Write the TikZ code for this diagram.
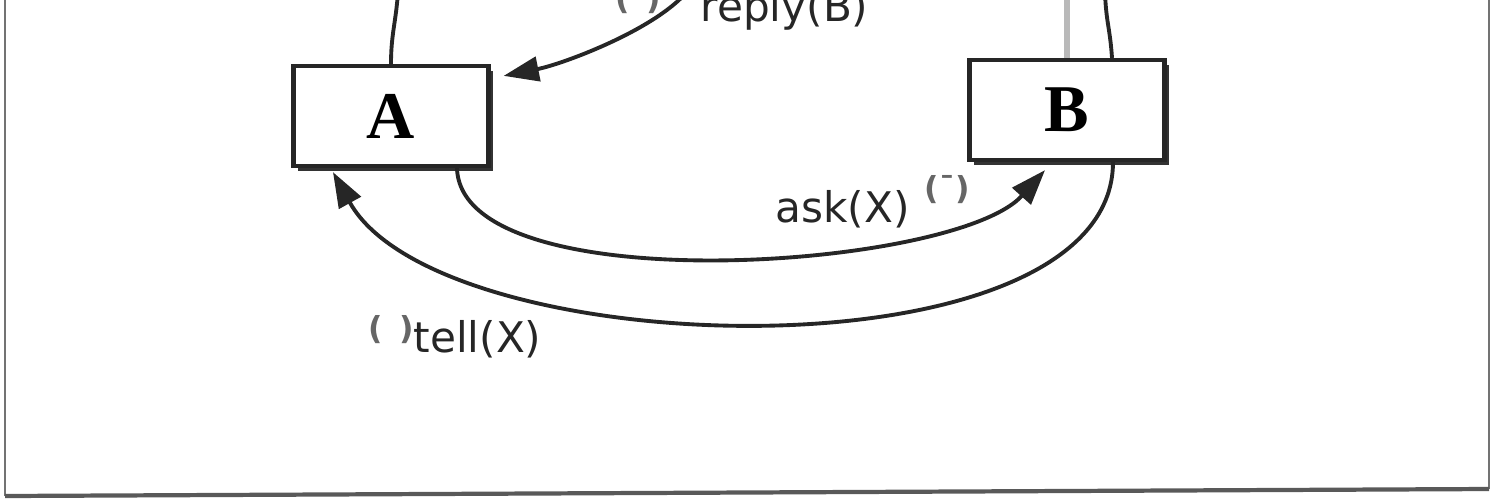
\documentclass[tikz,border=0pt]{standalone}
\usepackage{fontspec}
\setmainfont{Liberation Serif}
\newfontfamily\lblfont{DejaVu Sans}
\usepackage{xcolor}
\usetikzlibrary{arrows.meta,shadows,calc}
\newcommand{\pmark}[2]{\raisebox{#1}{\textcolor{black!60}{\fontsize{9}{9}\selectfont\bfseries(\makebox[1.6mm]{#2})}}}

\begin{document}
\begin{tikzpicture}[x=0.01cm,y=-0.01cm,
  agent/.style={draw=black!85,line width=1.2pt,fill=white,minimum width=1.95cm,minimum height=1cm,inner sep=0pt,
    font=\fontsize{19}{21}\selectfont\bfseries,
    drop shadow={shadow xshift=1.3pt,shadow yshift=-1.3pt,fill=black!80,opacity=1}},
  arr/.style={-{Triangle[length=10pt,width=7pt]},line width=1.1pt,draw=black!85},
  wire/.style={line width=1.1pt,draw=black!85},
  lbl/.style={font=\lblfont\fontsize{12}{14}\selectfont,text=black!85,inner sep=0pt}]
\useasboundingbox (0,0) rectangle (1502,502);
\clip (0,0) rectangle (1502,502);
% frame of the figure
\draw[black!55,line width=0.6pt] (5,-5) -- (5,496) (1489,489) -- (1489,-5);
\draw[black!65,line width=1.2pt] (5,496) -- (1489,489);

\node[agent] (A) at (391,116) {A};
\node[agent] (B) at (1067,110) {B};

\coordinate (atop) at (398,-8);
\coordinate (btop) at (1067,-8);
\coordinate (bloop) at (1105,-8);
\coordinate (rsrc) at (690,-12);

% loops leaving the top edge
\draw[wire] (A.north) .. controls +(0,-30) and +(-2,30) .. (atop);
\draw[gray!55,line width=1.7pt] (B.north) -- (btop);
\draw[wire] ($(B.north)+(45,0)$) .. controls +(-2,-30) and +(1,30) .. (bloop);

\draw[arr] (rsrc) .. controls +(-30,40) and +(60,-12) .. ($(A.north east)+(13,12)$);
\draw[arr] ($(A.south)+(66,0)$) .. controls +(4,135) and +(-90,100) .. ($(B.south)+(-22,8)$);
\draw[arr] ($(B.south)+(46,0)$) .. controls +(0,220) and +(107,193) .. ($(A.south)+(-58,4)$);

\node[lbl,anchor=base west] (replylbl) at (615,21) {\pmark{3.4pt}{}\hspace{4mm}reply(B)};
\node[lbl,anchor=base west] (asklbl) at (775,222) {ask(X)\hspace{1.5mm}\pmark{6.5pt}{\textasciimacron}};
\node[lbl,anchor=base west] (telllbl) at (368,352) {\pmark{3.5pt}{}tell(X)};
\end{tikzpicture}
\end{document}
